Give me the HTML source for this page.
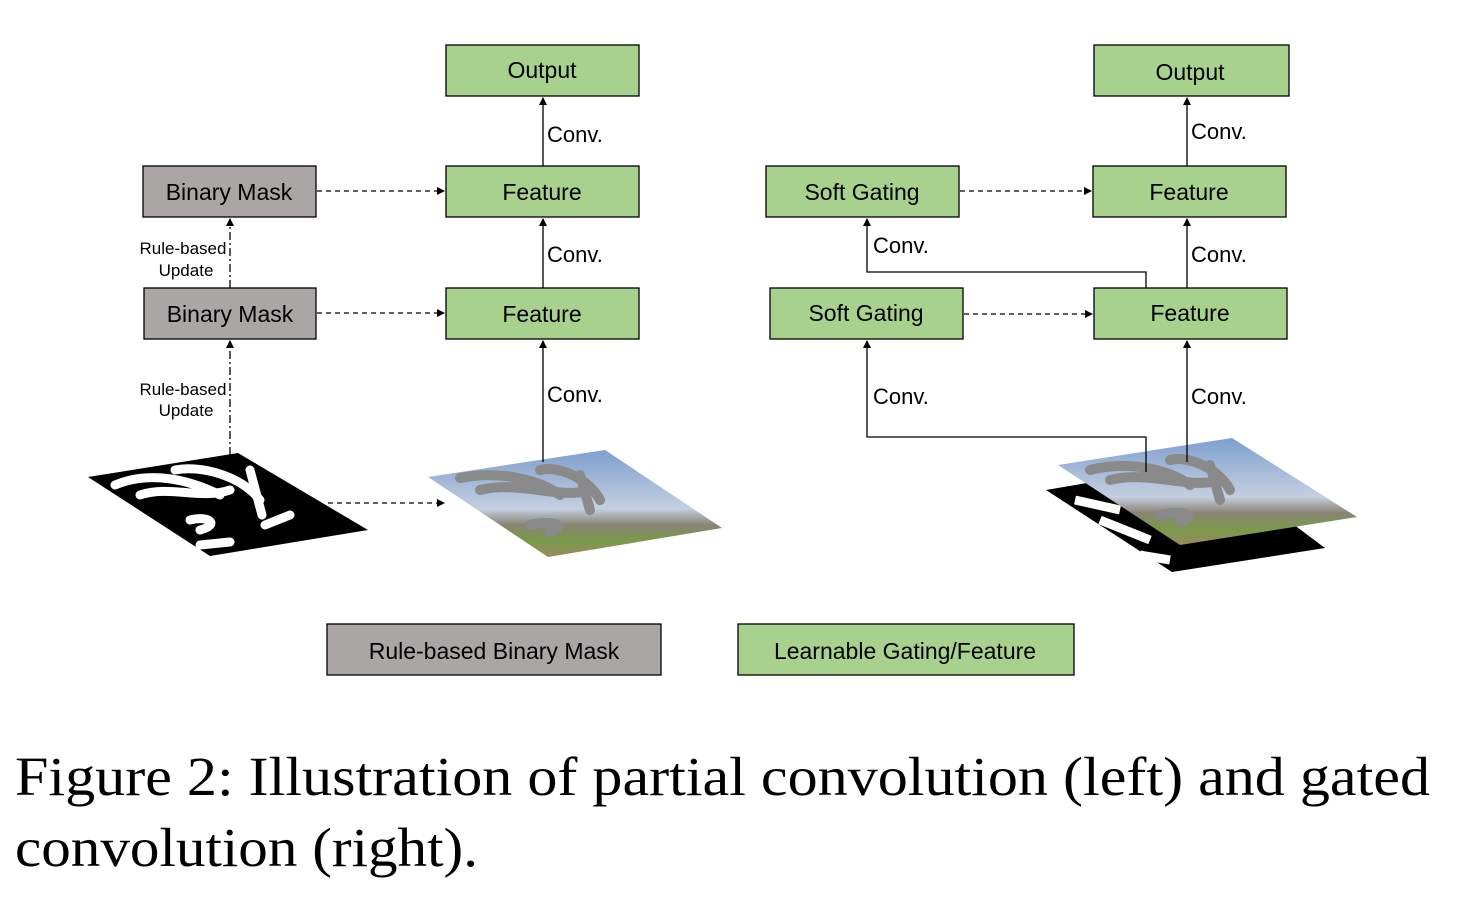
<!DOCTYPE html><html><head><style>body{margin:0;background:#fff}svg{display:block}</style></head><body>
<svg width="1483" height="921" xmlns="http://www.w3.org/2000/svg" font-family="Liberation Sans, sans-serif">
<defs>
<marker id="a" markerWidth="8" markerHeight="8" refX="7" refY="4" orient="auto" markerUnits="userSpaceOnUse"><path d="M0,0L8,4L0,8z" fill="#000"/></marker>
<linearGradient id="sky" x1="0" y1="0" x2="0" y2="1"><stop offset="0" stop-color="#7f9fcf"/><stop offset="0.55" stop-color="#c4cfe0"/><stop offset="0.7" stop-color="#8a8474"/><stop offset="0.85" stop-color="#7a9a4a"/><stop offset="1" stop-color="#9a8a60"/></linearGradient>
</defs>
<g stroke="#000" stroke-width="1.3">
<rect x="446" y="45" width="193" height="51" fill="#a9d18e"/>
<rect x="446" y="166" width="193" height="51" fill="#a9d18e"/>
<rect x="446" y="288" width="193" height="51" fill="#a9d18e"/>
<rect x="143" y="166" width="173" height="51" fill="#aaa6a6"/>
<rect x="144" y="288" width="172" height="51" fill="#aaa6a6"/>
<rect x="1094" y="45" width="195" height="51" fill="#a9d18e"/>
<rect x="1093" y="166" width="193" height="51" fill="#a9d18e"/>
<rect x="1094" y="288" width="193" height="51" fill="#a9d18e"/>
<rect x="766" y="166" width="193" height="51" fill="#a9d18e"/>
<rect x="770" y="288" width="193" height="51" fill="#a9d18e"/>
<rect x="327" y="624" width="334" height="51" fill="#aaa6a6"/>
<rect x="738" y="624" width="336" height="51" fill="#a9d18e"/>
</g>
<polygon points="88,477 238,453 368,530 210,556" fill="#000"/>
<g stroke="#fff" stroke-width="9" fill="none" stroke-linecap="round"><path d="M115,485 C150,470 190,480 220,495 M140,495 C170,485 200,500 230,490 M175,470 C200,465 240,475 260,500 M250,470 L262,515 M190,520 C210,515 220,525 200,530 M200,545 L230,542 M265,525 L290,515"/></g>
<polygon points="1046,490 1210,462 1325,548 1172,572" fill="#000"/>
<g stroke="#fff" stroke-width="9" fill="none"><path d="M1075,500 L1120,510 M1100,520 L1150,540 M1140,555 L1170,560"/></g>
<polygon points="428,477 605,450 722,528 548,557" fill="url(#sky)"/>
<polygon points="1058,465 1232,438 1357,517 1180,545" fill="url(#sky)"/>
<g stroke="#8a8a8a" stroke-width="10" fill="none" stroke-linecap="round"><path d="M460,478 C500,470 540,480 560,495 M480,490 C520,480 560,500 590,490 M540,470 C560,465 590,480 600,500 M580,475 L590,510 M530,525 C550,520 570,525 550,532"/>
<path d="M1090,470 C1130,460 1170,470 1190,485 M1110,480 C1150,470 1190,490 1220,480 M1170,460 C1190,455 1220,470 1230,490 M1210,465 L1220,500 M1160,515 C1180,510 1200,515 1180,522"/></g>
<g stroke="#000" stroke-width="1.3" fill="none">
<line x1="543" y1="166" x2="543" y2="98" marker-end="url(#a)"/>
<line x1="543" y1="288" x2="543" y2="219" marker-end="url(#a)"/>
<line x1="543" y1="462" x2="543" y2="341" marker-end="url(#a)"/>
<line x1="1187" y1="166" x2="1187" y2="98" marker-end="url(#a)"/>
<line x1="1187" y1="288" x2="1187" y2="219" marker-end="url(#a)"/>
<line x1="1187" y1="462" x2="1187" y2="341" marker-end="url(#a)"/>
<polyline points="1146,288 1146,272 867,272 867,219" marker-end="url(#a)"/>
<polyline points="1146,472 1146,437 867,437 867,341" marker-end="url(#a)"/>
<g stroke-dasharray="5,4">
<line x1="317" y1="191" x2="444" y2="191" marker-end="url(#a)"/>
<line x1="317" y1="313" x2="444" y2="313" marker-end="url(#a)"/>
<line x1="328" y1="503" x2="444" y2="503" marker-end="url(#a)"/>
<line x1="960" y1="191" x2="1091" y2="191" marker-end="url(#a)"/>
<line x1="964" y1="314" x2="1092" y2="314" marker-end="url(#a)"/>
</g>
<g stroke-dasharray="8,3,2,3">
<line x1="230" y1="288" x2="230" y2="219" marker-end="url(#a)"/>
<line x1="230" y1="455" x2="230" y2="341" marker-end="url(#a)"/>
</g>
</g>
<g font-size="23" text-anchor="middle" fill="#000">
<text x="542" y="78">Output</text><text x="542" y="200">Feature</text><text x="542" y="322">Feature</text>
<text x="229" y="200">Binary Mask</text><text x="230" y="322">Binary Mask</text>
<text x="1190" y="80">Output</text><text x="1189" y="200">Feature</text><text x="1190" y="321">Feature</text>
<text x="862" y="200">Soft Gating</text><text x="866" y="321">Soft Gating</text>
<text x="494" y="659">Rule-based Binary Mask</text><text x="905" y="659">Learnable Gating/Feature</text>
</g>
<g font-size="22" fill="#000">
<text x="547" y="142">Conv.</text><text x="547" y="262">Conv.</text><text x="547" y="402">Conv.</text>
<text x="1191" y="139">Conv.</text><text x="1191" y="262">Conv.</text><text x="1191" y="404">Conv.</text>
<text x="873" y="253">Conv.</text><text x="873" y="404">Conv.</text>
</g>
<g font-size="17" text-anchor="middle" fill="#000">
<text x="183" y="254">Rule-based</text><text x="186" y="276">Update</text>
<text x="183" y="395">Rule-based</text><text x="186" y="416">Update</text>
</g>
<g font-family="Liberation Serif, serif" font-size="55" fill="#000">
<text x="15" y="795" textLength="1415" lengthAdjust="spacingAndGlyphs">Figure 2: Illustration of partial convolution (left) and gated</text>
<text x="15" y="866" textLength="463" lengthAdjust="spacingAndGlyphs">convolution (right).</text>
</g>
</svg>
</body></html>
